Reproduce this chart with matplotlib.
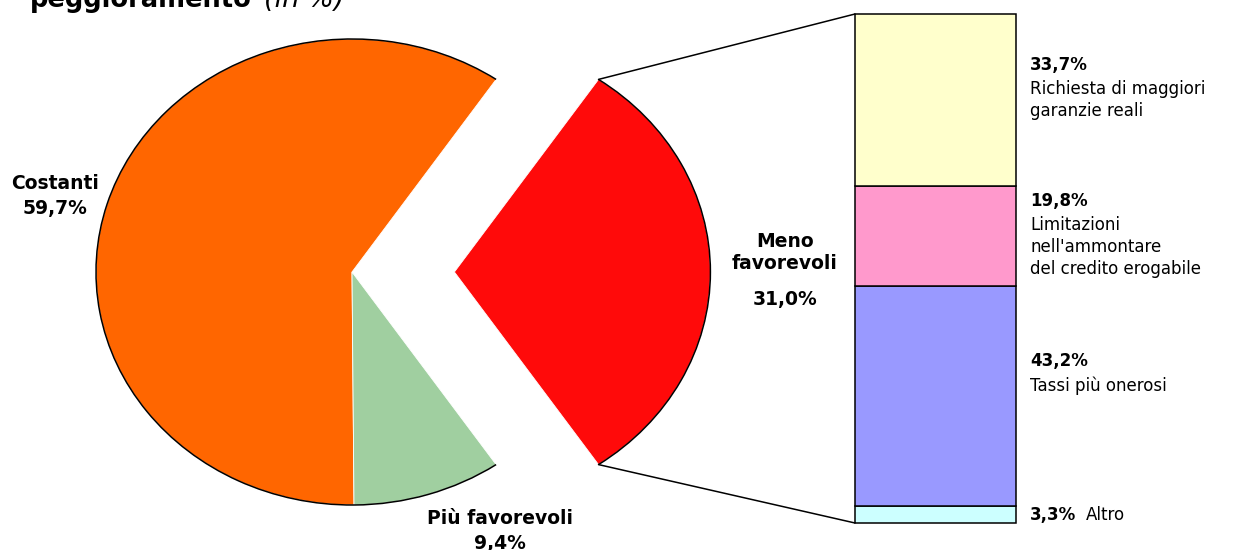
import matplotlib
matplotlib.use('Agg')
import matplotlib.pyplot as plt
from matplotlib.patches import Arc, ConnectionPatch
import numpy as np

# ---------------- data ----------------
pie_labels = ['Meno\nfavorevoli', 'Costanti', 'Più favorevoli']
pie_values = [31.0, 59.7, 9.4]
pie_pct = ['31,0%', '59,7%', '9,4%']

bar_labels = ['Altro', 'Tassi più onerosi',
              "Limitazioni\nnell'ammontare\ndel credito erogabile",
              'Richiesta di maggiori\ngaranzie reali']
bar_values = [3.3, 43.2, 19.8, 33.7]
bar_pct = ['3,3%', '43,2%', '19,8%', '33,7%']

title_bold = 'peggioramento'
title_ital = '(in %)'

# ---------------- style ----------------
pie_colors = ['#FF0A0A', '#FF6600', '#A0CFA0']
pie_explode = [0.40, 0, 0]
bar_colors = ['#CCFFFF', '#9999FF', '#FF99CC', '#FFFFCC']

W, H = 1236, 550
fig = plt.figure(figsize=(W / 100, H / 100), dpi=100)
fig.patch.set_facecolor('white')

# pie axes covering the whole figure; unequal scales give the elliptical pie
cx, cy = 352, H - 272
rx, ry = 256, 233
ax = fig.add_axes([0, 0, 1, 1])
start = -pie_values[0] / sum(pie_values) * 180
wedges, _ = ax.pie(pie_values, colors=pie_colors, explode=pie_explode,
                   startangle=start, counterclock=True,
                   wedgeprops=dict(linewidth=0.6, edgecolor='white'))
ax.set_aspect('auto')
ax.set_xlim(-cx / rx, (W - cx) / rx)
ax.set_ylim(-cy / ry, (H - cy) / ry)
ax.axis('off')

for w in wedges:
    ax.add_patch(Arc(w.center, 2 * w.r, 2 * w.r, theta1=w.theta1,
                     theta2=w.theta2, color='black', lw=1.1))

# bar (stacked) axes
bx0, bx1, by0, by1 = 855, 1016, 14, 523
axb = fig.add_axes([bx0 / W, (H - by1) / H, (bx1 - bx0) / W, (by1 - by0) / H])
bottoms = np.concatenate([[0], np.cumsum(bar_values)[:-1]])
bars = axb.bar(0, bar_values, bottom=bottoms, width=1, color=bar_colors,
               edgecolor='black', linewidth=1.1)
for r in bars:
    r.set_clip_on(False)
axb.set_xlim(-0.5, 0.5)
axb.set_ylim(0, sum(bar_values))
axb.axis('off')

# connector lines from red wedge tips to bar corners
w0 = wedges[0]
c0 = np.array(w0.center)
for th, yb in [(w0.theta2, sum(bar_values)), (w0.theta1, 0)]:
    p = c0 + w0.r * np.array([np.cos(np.deg2rad(th)), np.sin(np.deg2rad(th))])
    con = ConnectionPatch(xyA=tuple(p), coordsA=ax.transData,
                          xyB=(-0.5, yb), coordsB=axb.transData,
                          color='black', lw=1.1)
    fig.add_artist(con)

# bar labels
FS = 12
px2pt = 0.72
for i, (v, b) in enumerate(zip(bar_values, bottoms)):
    mid = b + v / 2
    if i == 0:
        t = axb.annotate(bar_pct[i], xy=(0.5, mid), xytext=(14 * px2pt, 0),
                         textcoords='offset points', ha='left', va='center',
                         fontsize=FS, fontweight='bold')
        axb.annotate(bar_labels[i], xy=(1, 0), xycoords=t, xytext=(7, 0),
                     textcoords='offset points', ha='left', va='bottom',
                     fontsize=FS)
    else:
        axb.annotate(bar_pct[i], xy=(0.5, mid), xytext=(14 * px2pt, 30 * px2pt),
                     textcoords='offset points', ha='left', va='baseline',
                     fontsize=FS, fontweight='bold')
        axb.annotate(bar_labels[i], xy=(0.5, mid), xytext=(14 * px2pt, 20 * px2pt),
                     textcoords='offset points', ha='left', va='top',
                     fontsize=FS, linespacing=1.3)

# pie labels
PFS = 13.5
fig.text(55 / W, 1 - 196 / H, pie_labels[1] + '\n' + pie_pct[1], ha='center',
         va='center', fontsize=PFS, fontweight='bold', linespacing=1.45)
fig.text(500 / W, 1 - 531 / H, pie_labels[2] + '\n' + pie_pct[2], ha='center',
         va='center', fontsize=PFS, fontweight='bold', linespacing=1.45)
fig.text(785 / W, 1 - 252 / H, pie_labels[0], ha='center',
         va='center', fontsize=PFS, fontweight='bold')
fig.text(785 / W, 1 - 300 / H, pie_pct[0], ha='center',
         va='center', fontsize=PFS, fontweight='bold')

# title (cut at top)
tt = fig.text(30 / W, 1 - 7 / H, title_bold, ha='left', va='baseline',
              fontsize=18.5, fontweight='bold')
ax.annotate(title_ital, xy=(1, 0), xycoords=tt, xytext=(9, 0),
            textcoords='offset points', ha='left', va='bottom',
            fontsize=19.5, fontstyle='italic', annotation_clip=False)

fig.savefig('out.png', dpi=100)
